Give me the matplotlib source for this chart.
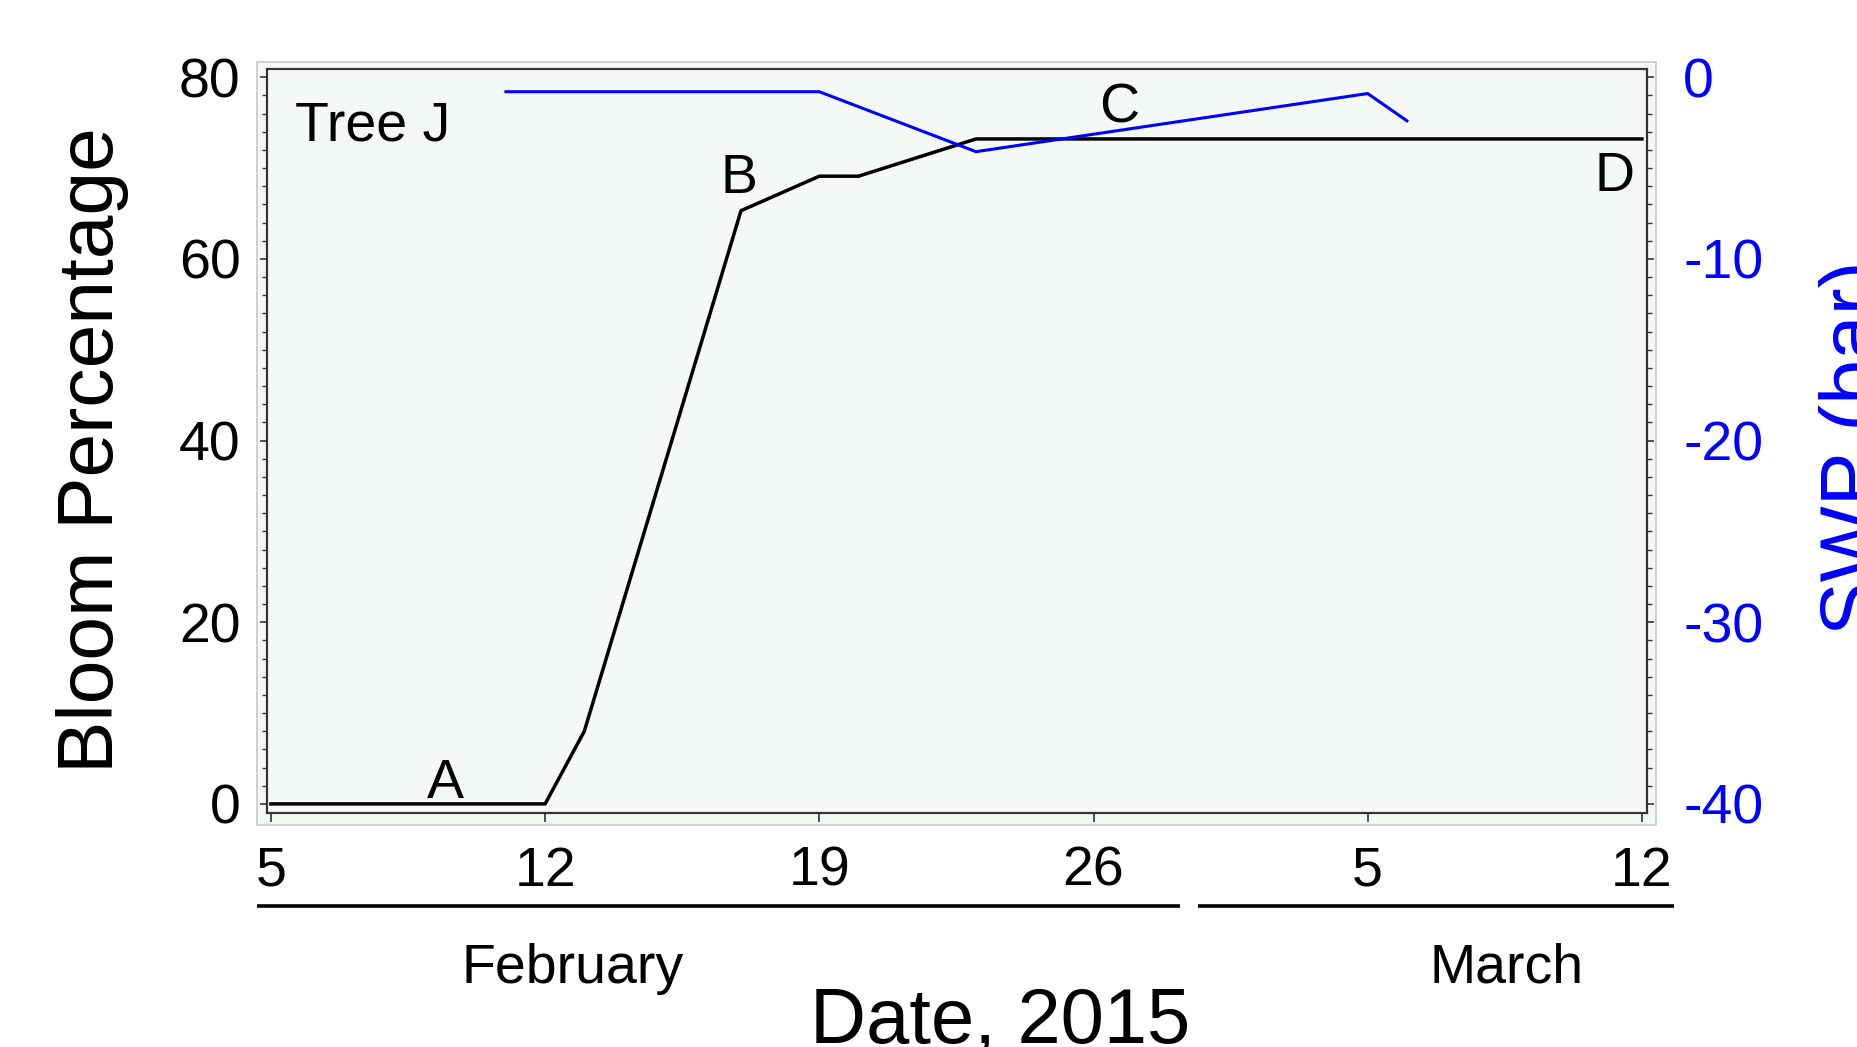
import matplotlib.pyplot as plt
import matplotlib.dates as mdates
from matplotlib.patches import Rectangle
from matplotlib.ticker import MultipleLocator
import numpy as np

plt.rcParams['font.family'] = ['Liberation Sans', 'DejaVu Sans']

# bloom percentage (left axis)
bloom_dates = ['2015-02-05', '2015-02-12', '2015-02-13', '2015-02-17',
               '2015-02-19', '2015-02-20', '2015-02-23', '2015-03-12']
bloom_pct = [0, 0, 8, 65.3, 69.1, 69.1, 73.2, 73.2]

# stem water potential (right axis)
swp_dates = ['2015-02-11', '2015-02-19', '2015-02-23', '2015-03-05', '2015-03-06']
swp_bar = [-0.8, -0.8, -4.1, -0.9, -2.4]

tick_dates = ['2015-02-05', '2015-02-12', '2015-02-19', '2015-02-26',
              '2015-03-05', '2015-03-12']
tick_labels = ['5', '12', '19', '26', '5', '12']

# stage letters: (text, days after Feb 5, bloom %)
stage_text = ['A', 'B', 'C', 'D']
stage_day = [4.45, 11.95, 21.65, 34.3]
stage_y = [0.7, 67.2, 75.0, 67.5]

def to_num(dates):
    return mdates.date2num(np.array(dates, dtype='datetime64[D]'))

bg = '#f4f9f5'
blue = '#0000ff'

fig = plt.figure(figsize=(18.57, 10.47), dpi=100)
fig.patches.append(Rectangle((0.1384, 0.2120), 0.7534, 0.7288, transform=fig.transFigure,
                             facecolor=bg, edgecolor='#c8c8c8', lw=1.2, zorder=-1))

ax1 = fig.add_axes([0.1438, 0.2235, 0.7431, 0.7106])
ax1.set_facecolor(bg)
ax1.plot(to_num(bloom_dates), bloom_pct, color='black', lw=2.5, zorder=3)
ax1.set_ylim(-1.0, 80.9)
x0 = to_num(['2015-02-05'])[0]
ax1.set_xlim(x0 - 0.1, to_num(['2015-03-12'])[0] + 0.13)
ax1.set_yticks([0, 20, 40, 60, 80])
ax1.yaxis.set_minor_locator(MultipleLocator(2))
ax1.set_xticks(to_num(tick_dates))
ax1.set_xticklabels(tick_labels)
ax1.tick_params(axis='y', which='major', direction='out', length=5, width=1.2,
                labelsize=40, pad=14, color='#333333')
ax1.tick_params(axis='y', which='minor', direction='out', length=3.6, width=1.0, color='#333333')
ax1.tick_params(axis='x', which='major', direction='out', length=6.5, width=1.2,
                labelsize=40, pad=17, color='#333333')
for s in ax1.spines.values():
    s.set_color('#333333')
    s.set_linewidth(1.5)

ax2 = ax1.twinx()
ax2.plot(to_num(swp_dates), swp_bar, color=blue, lw=2.2, zorder=3)
ax2.set_ylim(-40.5, 0.45)
ax2.set_yticks([0, -10, -20, -30, -40])
ax2.set_yticklabels(['0', '-10', '-20', '-30', '-40'])
ax2.yaxis.set_minor_locator(MultipleLocator(1))
ax2.tick_params(axis='y', which='major', direction='out', length=5, width=1.2,
                labelsize=40, pad=21, labelcolor=blue, color='#333333')
ax2.tick_params(axis='y', which='minor', direction='out', length=3.6, width=1.0, color='#333333')
for s in ax2.spines.values():
    s.set_color('#333333')
    s.set_linewidth(1.5)

ax1.text(x0 + 0.61, 73.0, 'Tree J', fontsize=40, ha='left', va='baseline')
for t, d, y in zip(stage_text, stage_day, stage_y):
    ax1.text(x0 + d, y, t, fontsize=40, ha='center', va='baseline')

# month bands under the axis
ax1.plot([-0.0072, 0.6616], [-0.125, -0.125], transform=ax1.transAxes,
         color='black', lw=2.6, clip_on=False, solid_capstyle='butt')
ax1.plot([0.6746, 1.0196], [-0.125, -0.125], transform=ax1.transAxes,
         color='black', lw=2.6, clip_on=False, solid_capstyle='butt')
ax1.text(0.2217, -0.2285, 'February', transform=ax1.transAxes, fontsize=40,
         ha='center', va='baseline')
ax1.text(0.8986, -0.2285, 'March', transform=ax1.transAxes, fontsize=40,
         ha='center', va='baseline')
ax1.text(0.531, -0.309, 'Date, 2015', transform=ax1.transAxes, fontsize=56,
         ha='center', va='baseline')

fig.text(56 / 1857, 0.570, 'Bloom Percentage', rotation=90, fontsize=56.5,
         ha='left', va='center')
fig.text(1819 / 1857, 0.572, 'SWP (bar)', rotation=90, fontsize=58, color=blue,
         ha='left', va='center')

fig.savefig('out.png', dpi=100)
